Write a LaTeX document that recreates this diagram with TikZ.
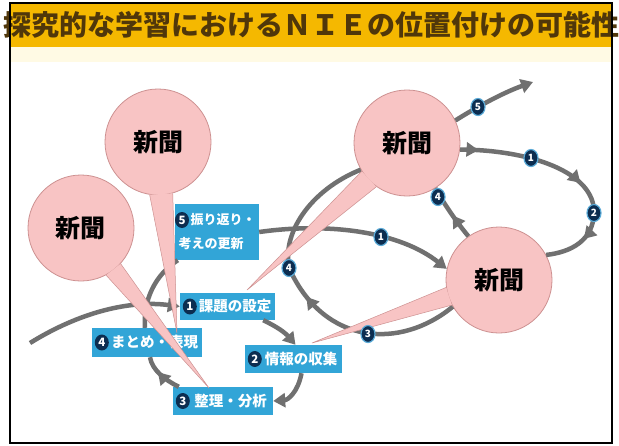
\documentclass[tikz,border=0pt]{standalone}
\usepackage{fontspec}
\newfontfamily\cjk{Noto Sans CJK JP}
\usetikzlibrary{arrows.meta,decorations.markings,calc,shapes.geometric}
\definecolor{titlebar}{RGB}{245,184,0}
\definecolor{titletext}{RGB}{80,55,10}
\definecolor{paleband}{RGB}{255,250,228}
\definecolor{boxblue}{RGB}{50,165,215}
\definecolor{pinkfill}{RGB}{248,196,196}
\definecolor{pinkedge}{RGB}{205,145,145}
\definecolor{arrgray}{RGB}{112,112,112}
\definecolor{navy}{RGB}{12,45,80}
\definecolor{badgeedge}{RGB}{90,170,215}
\begin{document}
\begin{tikzpicture}[x=1pt,y=-1pt,
  flow/.style={draw=arrgray,line width=4.5pt},
  endtip/.style={-{Triangle[length=12pt,width=14pt]}},
  midtip/.style={postaction={decorate,decoration={markings,mark=at position #1 with {\arrow[arrgray]{Triangle[length=12pt,width=14pt]}}}}},
  paper/.style={circle,fill=pinkfill,draw=pinkedge,line width=0.8pt,minimum size=106pt,inner sep=0pt,font=\cjk\bfseries\fontsize{25}{25}\selectfont},
  bluebox/.style={fill=boxblue,text=white,inner xsep=3pt,inner ysep=2pt,font=\cjk\bfseries\fontsize{14.5}{16}\selectfont},
  boxbadge/.style={ellipse,fill=navy,text=white,inner sep=0pt,minimum width=14pt,minimum height=16pt,font=\cjk\bfseries\fontsize{11.5}{11.5}\selectfont},
  numlabel/.style={ellipse,fill=navy,draw=badgeedge,line width=1.2pt,text=white,inner sep=0pt,minimum width=14pt,minimum height=17pt,font=\cjk\bfseries\fontsize{10}{10}\selectfont},
  tail/.style={fill=pinkfill},
  tailedge/.style={draw=pinkedge,line width=0.5pt},
]
\useasboundingbox (0,0) rectangle (619,445);
\fill[white] (0,0) rectangle (619,445);
\fill[titlebar] (10,3) rectangle (612,47);
\fill[paleband] (10,47) rectangle (612,62);
\node[font=\cjk\bfseries\fontsize{28}{28}\selectfont,text=titletext,inner sep=0pt] (title) at (312,25) {探究的な学習におけるＮＩＥの位置付けの可能性};

% newspaper circles
\node[paper] (c1) at (158,142) {新聞};
\node[paper] (c2) at (81,228) {新聞};
\node[paper] (c3) at (407,143) {新聞};
\node[paper] (c4) at (499,280) {新聞};

% blue boxes
\node[bluebox,minimum width=84pt,minimum height=56pt,align=left,font=\cjk\bfseries\fontsize{13}{24}\selectfont] (b5) at (217,232) {\hspace*{12pt}振り返り・\\考えの更新};
\node[bluebox,minimum width=95pt,minimum height=27pt] (b1) at (227.5,306.5) {\hspace*{15pt}課題の設定};
\node[bluebox,minimum width=110pt,minimum height=29pt] (b4) at (147,342.5) {\hspace*{15pt}まとめ・表現};
\node[bluebox,minimum width=97pt,minimum height=28pt] (b2) at (293.5,359) {\hspace*{15pt}情報の収集};
\node[bluebox,minimum width=100pt,minimum height=28pt] (b3) at (223,401) {\hspace*{15pt}整理・分析};

\node[boxbadge] (g5) at (182,220) {5};
\node[boxbadge] (g1) at ($(b1.west)+(10,0)$) {1};
\node[boxbadge] (g4) at ($(b4.west)+(10,0)$) {4};
\node[boxbadge] (g2) at ($(b2.west)+(10,0)$) {2};
\node[boxbadge] (g3) at ($(b3.west)+(10,0)$) {3};

% first loop
\coordinate (s0) at (30,343);
\draw[flow,endtip] (s0) .. controls (80,312) and (130,300) .. (b1.west);
\draw[flow,endtip] ($(b1.south east)+(-12,0)$) to[bend left=12] ($(b2.north)+(2,0)$);
\draw[flow,endtip] ($(b2.south)+(8,0)$) .. controls (298,392) and (288,400) .. (b3.east);
\draw[flow,midtip=0.6] ($(b3.north west)+(6,0)$) .. controls (165,380) and (152,370) .. ($(b4.south)+(3,0)$);
\draw[flow] ($(b4.north)+(-2,0)$) .. controls (143,300) and (155,275) .. ($(b5.south west)+(3,0)$);

% second loop
\draw[flow,endtip] (b5.east) .. controls (330,222) and (400,232) .. (c4.168);
\draw[flow,midtip=0.5] (c4.-150) .. controls (400,350) and (325,345) .. (290,270) .. controls (280,235) and (310,190) .. (c3.-150);

% third loop
\draw[flow,midtip=0.08,midtip=0.55,midtip=0.82] (c3.-7) .. controls (530,150) and (595,172) .. (594,213) .. controls (593,240) and (572,252) .. (c4.28);
\draw[flow,midtip=0.45] (c4.125) .. controls (455,220) and (445,205) .. (c3.-58);
\coordinate (e5) at (533,82);
\draw[flow,endtip] (c3.25) .. controls (480,105) and (505,92) .. (e5);

% speech-bubble tails
\fill[tail] (c1.-99) -- (177,333) -- (c1.-74) -- cycle;
\draw[tailedge] (c1.-99) -- (177,333) -- (c1.-74);
\fill[tail] (c2.-62) -- (209,388) -- (c2.-42) -- cycle;
\draw[tailedge] (c2.-62) -- (209,388) -- (c2.-42);
\fill[tail] (c3.-148) -- (247,290) -- (c3.-125) -- cycle;
\draw[tailedge] (c3.-148) -- (247,290) -- (c3.-125);
\fill[tail] (c4.-172) -- (312,343) -- (c4.-152) -- cycle;
\draw[tailedge] (c4.-172) -- (312,343) -- (c4.-152);

% step numbers on the loops
\node[numlabel] (l21) at (381,237) {1};
\node[numlabel] (l23) at (368,334) {3};
\node[numlabel] (l24) at (289,268) {4};
\node[numlabel] (l31) at (531,158) {1};
\node[numlabel] (l32) at (594,213) {2};
\node[numlabel] (l34) at (438,197) {4};
\node[numlabel] (l35) at (478,107) {5};

\draw[black,line width=1.2pt] (10,3) rectangle (612,443);
\end{tikzpicture}
\end{document}
